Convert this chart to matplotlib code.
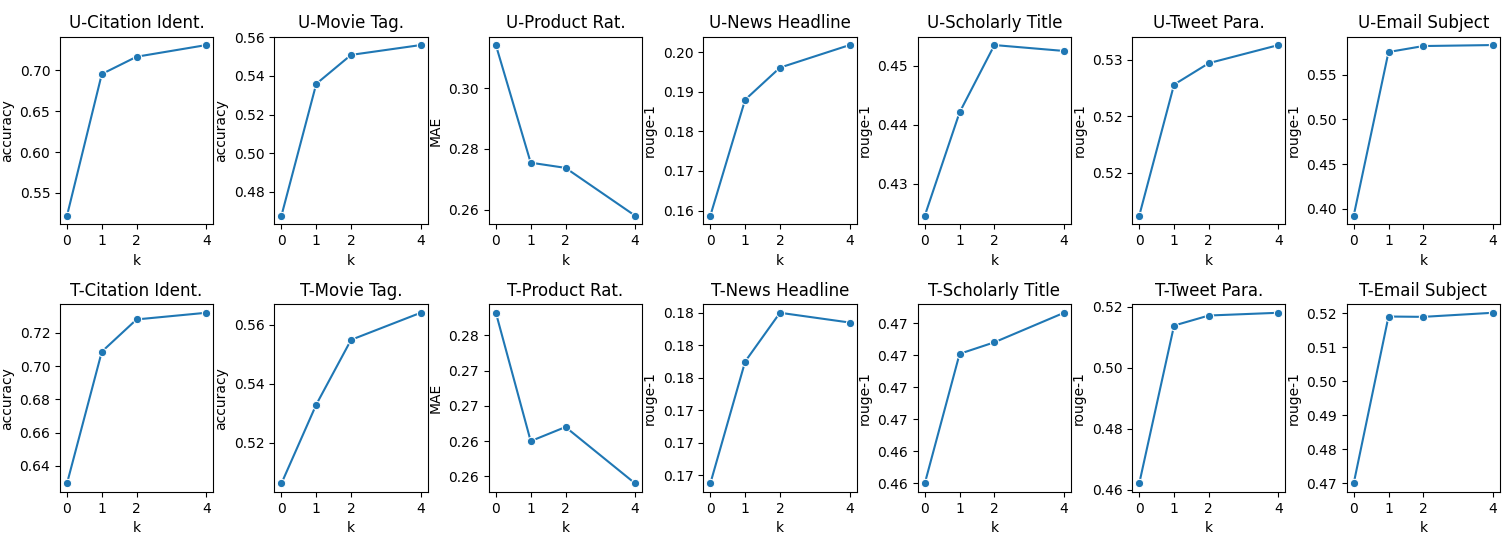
import matplotlib
matplotlib.use("Agg")
import matplotlib.pyplot as plt
import seaborn as sns
from matplotlib.ticker import FormatStrFormatter

K = [0, 1, 2, 4]

TASKS = ["Citation Ident.", "Movie Tag.", "Product Rat.", "News Headline",
         "Scholarly Title", "Tweet Para.", "Email Subject"]
METRICS = ["accuracy", "accuracy", "MAE", "rouge-1", "rouge-1", "rouge-1", "rouge-1"]

# user-based split
U_citation = [0.522, 0.6955, 0.7167, 0.7310]
U_movie = [0.4676, 0.5359, 0.5509, 0.5560]
U_product = [0.3141, 0.2755, 0.2738, 0.2581]
U_news = [0.1587, 0.1880, 0.1961, 0.2018]
U_scholarly = [0.4246, 0.4421, 0.4535, 0.4525]
U_tweet = [0.5112, 0.5228, 0.5247, 0.5263]
U_email = [0.3922, 0.5753, 0.5820, 0.5831]

# time-based split
T_citation = [0.6294, 0.7086, 0.7280, 0.7320]
T_movie = [0.5061, 0.5329, 0.5549, 0.5641]
T_product = [0.2782, 0.2600, 0.2620, 0.2540]
T_news = [0.1695, 0.1770, 0.1800, 0.1794]
T_scholarly = [0.4600, 0.4701, 0.4710, 0.4733]
T_tweet = [0.4621, 0.5139, 0.5172, 0.5181]
T_email = [0.4700, 0.5190, 0.5189, 0.5201]

rows = [("U", [U_citation, U_movie, U_product, U_news, U_scholarly, U_tweet, U_email]),
        ("T", [T_citation, T_movie, T_product, T_news, T_scholarly, T_tweet, T_email])]

fig, axes = plt.subplots(2, 7, figsize=(15.12, 5.5), dpi=100)
for r, (prefix, series) in enumerate(rows):
    for c, vals in enumerate(series):
        ax = axes[r, c]
        sns.lineplot(x=K, y=vals, marker="o", ax=ax)
        ax.set_title(f"{prefix}-{TASKS[c]}")
        ax.set_xlabel("k")
        ax.set_ylabel(METRICS[c])
        ax.set_xticks(K)
        ax.yaxis.set_major_formatter(FormatStrFormatter("%.2f"))

fig.subplots_adjust(left=0.0397, right=0.992, top=0.9336, bottom=0.1055,
                    wspace=0.40, hspace=0.426)
fig.savefig("out.png", dpi=100)
